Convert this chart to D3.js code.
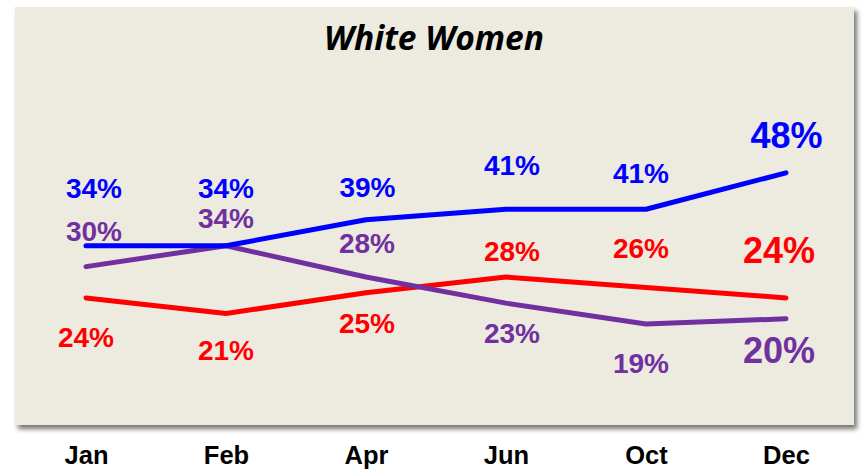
<!DOCTYPE html>
<html><head><meta charset="utf-8">
<script src="https://cdn.jsdelivr.net/npm/d3@7"></script>
<style>body{margin:0;background:#fff;}svg{display:block;}</style>
</head><body>
<script>
const months = ["Jan","Feb","Apr","Jun","Oct","Dec"];
const blueVals = [34,34,39,41,41,48];
const redVals = [24,21,25,28,26,24];
const purpleVals = [30,34,28,23,19,20];
const title = "White Women";

const W=864,H=470;
const svg=d3.select("body").append("svg").attr("width",W).attr("height",H);
const defs=svg.append("defs");
const f=defs.append("filter").attr("id","sh").attr("x","-5%").attr("y","-5%").attr("width","112%").attr("height","115%");
f.append("feDropShadow").attr("dx",3).attr("dy",4).attr("stdDeviation",2.5).attr("flood-color","#000").attr("flood-opacity",0.55);

svg.append("rect").attr("x",15).attr("y",7).attr("width",839).attr("height",418)
  .attr("fill","#EDEAE0").attr("filter","url(#sh)");

svg.append("text").attr("x",434).attr("y",50).attr("text-anchor","middle")
  .attr("font-family","Open Sans").attr("font-weight","bold").attr("font-style","italic")
  .attr("font-size",33.5).attr("fill","#000").text(title);

const x=d3.scalePoint().domain(months).range([86,786]);
const y=d3.scaleLinear().domain([0,80]).range([423,6]);

const xAxis=d3.axisBottom(x).tickSize(0).tickPadding(0);
const ga=svg.append("g").attr("transform","translate(0,464)").call(xAxis);
ga.select(".domain").remove();
ga.selectAll("text").attr("font-family","Liberation Sans, Arial").attr("font-weight","bold")
  .attr("font-size",25.5).attr("fill","#000").attr("y",0).attr("dy",0);

const line=d3.line().x((d,i)=>x(months[i])).y(d=>y(d));
const series=[
 {vals:redVals,color:"#FF0000"},
 {vals:purpleVals,color:"#7030A0"},
 {vals:blueVals,color:"#0000FF"}
];
series.forEach(s=>{
  svg.append("path").datum(s.vals).attr("d",line).attr("fill","none")
    .attr("stroke",s.color).attr("stroke-width",5).attr("stroke-linecap","round").attr("stroke-linejoin","round");
});

// label offsets (label centre relative to point): [dx, dy]
const blueOff=[[8,-58],[0,-58],[1.5,-33],[6,-44],[-5,-36],[0.5,-38]];
const purpleOff=[[8,-36],[0,-28],[1,-34],[6,30],[-5,39],[-7,31]];
const redOff=[[0,39],[0,36.5],[1,30],[6,-26],[-5,-39.5],[-7,-48]];
function labels(vals,offs,color){
  vals.forEach((v,i)=>{
    const fs=i===5?36:28;
    svg.append("text").attr("x",x(months[i])+offs[i][0]).attr("y",y(v)+offs[i][1]+0.36*fs)
      .attr("text-anchor","middle")
      .attr("font-family","Liberation Sans, Arial").attr("font-weight","bold")
      .attr("font-size",fs).attr("fill",color).text(v+"%");
  });
}
labels(blueVals,blueOff,"#0000FF");
labels(purpleVals,purpleOff,"#7030A0");
labels(redVals,redOff,"#FF0000");
</script>
</body></html>
